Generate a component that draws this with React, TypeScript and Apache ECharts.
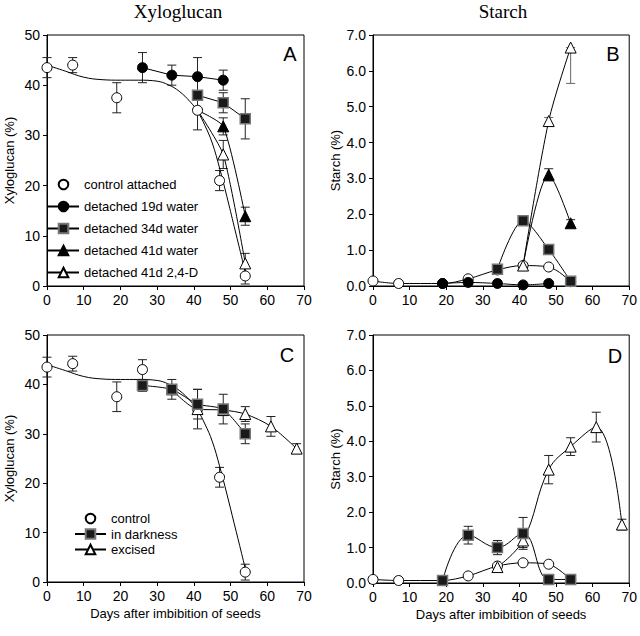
import React, { useEffect, useRef } from 'react';
import * as echarts from 'echarts';

// ---------- Data ----------
// Control fitted curve (xyloglucan, panels A and C)
const fitX = [0, 5, 10, 15, 20, 25, 30, 33, 36, 39, 41, 43, 45, 47, 49, 51, 53, 54.5];
const fitY = [44, 42.8, 41.6, 41.1, 41, 41, 40.8, 40.1, 38.8, 36.7, 34.8, 32, 28.5, 23.5, 17.8, 11.8, 5.8, 1.2];

// Panel A – Xyloglucan, detachment
const aCtrlX = [0, 7, 19, 41, 47, 54];
const aCtrlY = [43.5, 44, 37.5, 35, 21, 2];
const aCtrlErr = [2, 1.5, 3, 3.9, 2, 1.6];
const a19X = [26, 34, 41, 48];
const a19Y = [43.5, 42, 41.7, 41];
const a19Err = [3, 2, 3.8, 2];
const a34X = [41, 48, 54];
const a34Y = [38, 36.5, 33.3];
const a34Err = [0.8, 2, 4];
const a41wX = [41, 48, 54];
const a41wY = [35, 31.8, 13.9];
const a41wErr = [0, 1.7, 1.8];
const a41dX = [41, 48, 54];
const a41dY = [35, 26.2, 4.5];
const a41dErr = [0, 2.8, 2];

// Panel B – Starch, detachment
const bCtrlX = [0, 7, 19, 26, 34, 41, 48, 54];
const bCtrlY = [0.14, 0.07, 0.07, 0.2, 0.45, 0.57, 0.53, 0.12];
const bCtrlErr = [0.02, 0.02, 0.02, 0.03, 0.04, 0.04, 0.04, 0.02];
const b19X = [19, 26, 34, 41, 48];
const b19Y = [0.07, 0.1, 0.07, 0.03, 0.07];
const b19Err = [0.02, 0.02, 0.02, 0.02, 0.02];
const b34X = [34, 41, 48, 54];
const b34Y = [0.47, 1.82, 1.02, 0.13];
const b34Err = [0.05, 0.08, 0.05, 0.04];
const b41wX = [41, 48, 54];
const b41wY = [0.57, 3.1, 1.75];
const b41wErr = [0, 0.17, 0.1];
const b41dX = [41, 48, 54];
const b41dY = [0.57, 4.6, 6.65];
const b41dErr: (number | [number, number])[] = [0.05, 0.1, [1.0, 0]];

// Panel C – Xyloglucan, darkness / excised
const cCtrlX = [0, 7, 19, 26, 41, 47, 54];
const cCtrlY = [43.5, 44.2, 37.5, 43, 35, 21.2, 2];
const cCtrlErr = [2, 1.5, 3, 2, 4, 2, 1.6];
const cDarkX = [26, 34, 41, 48, 54];
const cDarkY = [39.8, 39, 36, 35, 30];
const cDarkErr = [1.2, 2, 3, 3, 2];
const cExcX = [34, 41, 48, 54, 61, 68];
const cExcY = [39, 35, 34.8, 34, 31.5, 27];
const cExcErr = [0, 1, 0, 1.5, 2, 1];

// Panel D – Starch, darkness / excised
const dCtrlX = [0, 7, 19, 26, 34, 41, 48, 54];
const dCtrlY = [0.1, 0.07, 0.07, 0.2, 0.48, 0.57, 0.53, 0.1];
const dCtrlErr = [0.02, 0.02, 0.02, 0.03, 0.05, 0.04, 0.04, 0.02];
const dDarkX = [19, 26, 34, 41, 48, 54];
const dDarkY = [0.07, 1.35, 1.0, 1.4, 0.1, 0.1];
const dDarkErr = [0.02, 0.25, 0.2, 0.45, 0.03, 0.03];
const dExcX = [34, 41, 48, 54, 61, 68];
const dExcY = [0.45, 1.2, 3.2, 3.85, 4.4, 1.65];
const dExcErr = [0.05, 0.2, 0.4, 0.25, 0.42, 0.15];

const legendA = ['control attached', 'detached 19d water', 'detached 34d water', 'detached 41d water', 'detached 41d 2,4-D'];
const legendC = ['control', 'in darkness', 'excised'];

// ---------- Helpers ----------
const SANS = 'Liberation Sans, Arial, sans-serif';
const SERIF = 'Liberation Serif, Times New Roman, serif';

const pts = (xs: number[], ys: number[], hideFirst = false) =>
  xs.map((x, i) => (hideFirst && i === 0 ? { value: [x, ys[i]], symbol: 'none' } : [x, ys[i]]));

const errData = (xs: number[], ys: number[], errs: (number | [number, number])[]) => {
  const out: number[][] = [];
  xs.forEach((x, i) => {
    const e = errs[i];
    const lo = Array.isArray(e) ? e[0] : e;
    const hi = Array.isArray(e) ? e[1] : e;
    if (lo > 0 || hi > 0) out.push([x, ys[i] - lo, ys[i] + hi]);
  });
  return out;
};

type Mk = 'openCircle' | 'filledCircle' | 'square' | 'filledTri' | 'openTri';
const markerStyle = (m: Mk) => {
  switch (m) {
    case 'openCircle':
      return { symbol: 'circle', symbolSize: 10, itemStyle: { color: '#fff', borderColor: '#000', borderWidth: 1 } };
    case 'filledCircle':
      return { symbol: 'circle', symbolSize: 10, itemStyle: { color: '#000', borderColor: '#000', borderWidth: 1 } };
    case 'square':
      return { symbol: 'rect', symbolSize: 10, itemStyle: { color: '#1a1a1a', borderColor: '#777', borderWidth: 1.5 } };
    case 'filledTri':
      return { symbol: 'triangle', symbolSize: 11, itemStyle: { color: '#000', borderColor: '#000', borderWidth: 1 } };
    case 'openTri':
      return { symbol: 'triangle', symbolSize: 11, itemStyle: { color: '#fff', borderColor: '#000', borderWidth: 1 } };
  }
};

const lineSeries = (
  name: string,
  gi: number,
  data: any[],
  m: Mk,
  opts: { noLine?: boolean; smooth?: number | boolean; z?: number } = {}
) => ({
  type: 'line',
  name,
  xAxisIndex: gi,
  yAxisIndex: gi,
  data,
  ...markerStyle(m),
  showSymbol: true,
  smooth: opts.smooth ?? false,
  lineStyle: { color: opts.noLine ? 'rgba(0,0,0,0)' : '#000', width: 1 },
  emphasis: { disabled: true },
  z: opts.z ?? 3,
  clip: false,
});

const fitSeries = (gi: number) => ({
  type: 'line',
  name: 'fit' + gi,
  xAxisIndex: gi,
  yAxisIndex: gi,
  data: pts(fitX, fitY),
  symbol: 'none',
  smooth: 0.4,
  lineStyle: { color: '#000', width: 1 },
  z: 2,
  emphasis: { disabled: true },
});

let errCount = 0;
const errSeries = (gi: number, data: number[][], color = '#222') => ({
  type: 'custom',
  name: 'err' + gi + '_' + errCount++,
  xAxisIndex: gi,
  yAxisIndex: gi,
  data,
  encode: { x: 0, y: [1, 2] },
  z: 1,
  silent: true,
  renderItem: (_p: any, api: any) => {
    const x = api.value(0);
    const lo = api.value(1);
    const hi = api.value(2);
    const p1 = api.coord([x, hi]);
    const p2 = api.coord([x, lo]);
    const w = 4.5;
    const style = { stroke: color, lineWidth: 1 };
    return {
      type: 'group',
      children: [
        { type: 'line', shape: { x1: p1[0], y1: p1[1], x2: p2[0], y2: p2[1] }, style },
        { type: 'line', shape: { x1: p1[0] - w, y1: p1[1], x2: p1[0] + w, y2: p1[1] }, style },
        { type: 'line', shape: { x1: p2[0] - w, y1: p2[1], x2: p2[0] + w, y2: p2[1] }, style },
      ],
    };
  },
});

const grids = [
  { left: 47, top: 35, width: 257, height: 251 },
  { left: 373, top: 35, width: 260, height: 251 },
  { left: 47, top: 335, width: 257, height: 247 },
  { left: 373, top: 335, width: 260, height: 248 },
];

const axisCommon = {
  axisLine: { show: true, lineStyle: { color: '#000', width: 1 } },
  axisTick: { show: true, inside: false, length: 4, lineStyle: { color: '#000' } },
  splitLine: { show: false },
  axisLabel: { color: '#000', fontFamily: SANS, fontSize: 14, margin: 7 },
};

export default function App() {
  const ref = useRef<HTMLDivElement>(null);
  useEffect(() => {
    if (!ref.current) return;
    const chart = echarts.init(ref.current, undefined, { renderer: 'svg' });

    const xAxes = grids.map((_, i) => ({
      type: 'value',
      gridIndex: i,
      min: 0,
      max: 70,
      interval: 10,
      ...axisCommon,
      name: i >= 2 ? 'Days after imbibition of seeds' : '',
      nameLocation: 'middle',
      nameGap: 25,
      nameTextStyle: { color: '#000', fontFamily: SANS, fontSize: 13 },
    }));
    const yAxes = grids.map((_, i) => {
      const starch = i % 2 === 1;
      return {
        type: 'value',
        gridIndex: i,
        min: 0,
        max: starch ? 7 : 50,
        interval: starch ? 1 : 10,
        ...axisCommon,
        axisLabel: {
          ...axisCommon.axisLabel,
          formatter: (v: number) => (starch ? v.toFixed(1) : String(v)),
        },
        name: starch ? 'Starch (%)' : 'Xyloglucan (%)',
        nameLocation: 'middle',
        nameGap: 31,
        nameRotate: 90,
        nameTextStyle: { color: '#000', fontFamily: SANS, fontSize: 13 },
      };
    });

    const series: any[] = [
      // Panel A
      errSeries(0, errData(aCtrlX, aCtrlY, aCtrlErr)),
      errSeries(0, errData(a19X, a19Y, a19Err)),
      errSeries(0, errData(a34X, a34Y, a34Err)),
      errSeries(0, errData(a41wX, a41wY, a41wErr)),
      errSeries(0, errData(a41dX, a41dY, a41dErr)),
      fitSeries(0),
      lineSeries(legendA[0], 0, pts(aCtrlX, aCtrlY), 'openCircle', { noLine: true }),
      lineSeries(legendA[1], 0, pts(a19X, a19Y), 'filledCircle'),
      lineSeries(legendA[2], 0, pts(a34X, a34Y), 'square'),
      lineSeries(legendA[3], 0, pts(a41wX, a41wY, true), 'filledTri', { smooth: 0.2 }),
      lineSeries(legendA[4], 0, pts(a41dX, a41dY, true), 'openTri', { smooth: 0.2 }),
      // Panel B
      errSeries(1, errData(bCtrlX, bCtrlY, bCtrlErr)),
      errSeries(1, errData(b19X, b19Y, b19Err)),
      errSeries(1, errData(b34X, b34Y, b34Err)),
      errSeries(1, errData(b41wX, b41wY, b41wErr)),
      errSeries(1, errData(b41dX, b41dY, b41dErr), '#666'),
      lineSeries('B control', 1, pts(bCtrlX, bCtrlY), 'openCircle', { smooth: 0.35 }),
      lineSeries('B 19d', 1, pts(b19X, b19Y), 'filledCircle', { smooth: 0.3 }),
      lineSeries('B 34d', 1, pts(b34X, b34Y), 'square', { smooth: 0.3 }),
      lineSeries('B 41d water', 1, pts(b41wX, b41wY, true), 'filledTri', { smooth: 0.3 }),
      lineSeries('B 41d 2,4-D', 1, pts(b41dX, b41dY), 'openTri', { smooth: 0.3 }),
      // Panel C
      errSeries(2, errData(cCtrlX, cCtrlY, cCtrlErr)),
      errSeries(2, errData(cDarkX, cDarkY, cDarkErr)),
      errSeries(2, errData(cExcX, cExcY, cExcErr)),
      fitSeries(2),
      lineSeries(legendC[0], 2, pts(cCtrlX, cCtrlY), 'openCircle', { noLine: true }),
      lineSeries(legendC[2], 2, pts(cExcX, cExcY), 'openTri', { smooth: 0.3 }),
      lineSeries(legendC[1], 2, pts(cDarkX, cDarkY), 'square', { smooth: 0.2 }),
      // Panel D
      errSeries(3, errData(dCtrlX, dCtrlY, dCtrlErr)),
      errSeries(3, errData(dDarkX, dDarkY, dDarkErr)),
      errSeries(3, errData(dExcX, dExcY, dExcErr)),
      lineSeries('D control', 3, pts(dCtrlX, dCtrlY), 'openCircle', { smooth: 0.3 }),
      lineSeries('D excised', 3, pts(dExcX, dExcY), 'openTri', { smooth: 0.4 }),
      lineSeries('D darkness', 3, pts(dDarkX, dDarkY), 'square', { smooth: 0.4 }),
    ];

    const letter = (t: string, x: number, y: number) => ({
      type: 'text',
      x,
      y,
      style: { text: t, fill: '#000', font: `20px ${SANS}`, textAlign: 'center', textVerticalAlign: 'middle' },
      z: 10,
    });

    chart.setOption({
      animation: false,
      backgroundColor: '#fff',
      grid: grids.map((g) => ({ ...g, show: true, borderColor: '#000', borderWidth: 1, backgroundColor: 'transparent' })),
      xAxis: xAxes,
      yAxis: yAxes,
      legend: [
        {
          data: legendA,
          orient: 'vertical',
          left: 47,
          top: 178,
          padding: 0,
          itemWidth: 31,
          itemHeight: 12,
          itemGap: 9,
          selectedMode: false,
          textStyle: { color: '#000', fontFamily: SANS, fontSize: 13 },
        },
        {
          data: legendC,
          orient: 'vertical',
          left: 74,
          top: 512,
          padding: 0,
          itemWidth: 31,
          itemHeight: 12,
          itemGap: 2.5,
          selectedMode: false,
          textStyle: { color: '#000', fontFamily: SANS, fontSize: 13 },
        },
      ],
      graphic: [
        {
          type: 'text',
          x: 178,
          y: 11,
          style: { text: 'Xyloglucan', fill: '#000', font: `19px ${SERIF}`, textAlign: 'center', textVerticalAlign: 'middle' },
        },
        {
          type: 'text',
          x: 503,
          y: 11,
          style: { text: 'Starch', fill: '#000', font: `19px ${SERIF}`, textAlign: 'center', textVerticalAlign: 'middle' },
        },
        letter('A', 290, 54),
        letter('B', 613, 54),
        letter('C', 287, 355),
        letter('D', 615, 356),
      ],
      series,
    });
    return () => chart.dispose();
  }, []);

  return <div ref={ref} style={{ position: 'fixed', left: 0, top: 0, width: 640, height: 636, background: '#fff' }} />;
}
